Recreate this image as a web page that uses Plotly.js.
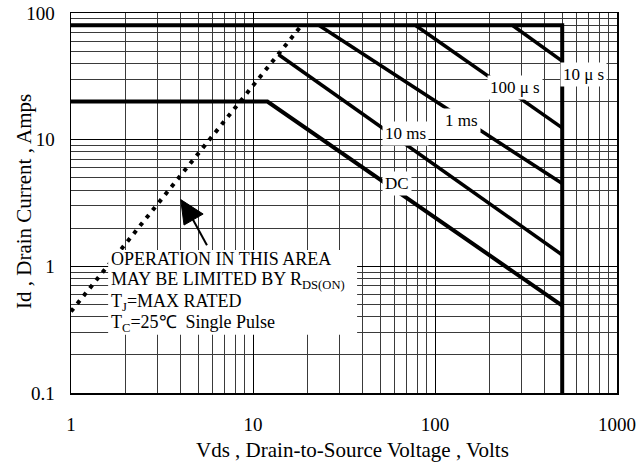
<!DOCTYPE html>
<html>
<head>
<meta charset="utf-8">
<script src="https://cdn.plot.ly/plotly-3.0.1.min.js"></script>
<style>html,body{margin:0;padding:0;background:#fff;}#chart{width:639px;height:467px;}</style>
</head>
<body>
<div id="chart"></div>
<script>
// Safe operating area boundaries (Vds in volts, Id in amps)
const limitX = [1, 500, 500];
const limitY = [80, 80, 0.1];
const dcX = [1, 12, 500];
const dcY = [20, 20, 0.49];
const ms10X = [13.8, 500];
const ms10Y = [47, 1.23];
const ms1X = [23, 500];
const ms1Y = [80, 4.5];
const us100X = [78, 500];
const us100Y = [80, 12.4];
const us10X = [266, 500];
const us10Y = [80, 41.7];
const rdsX = [1, 18.5];
const rdsY = [0.44, 80];

const xTickVals = [1, 10, 100, 1000];
const xTickText = ['1', '10', '100', '1000'];
const yTickVals = [0.1, 1, 10, 100];
const yTickText = ['0.1', '1', '10', '100'];

const serif = '"Liberation Serif"';
const black = '#000';

function line(x, y, w, dash) {
  return {x: x, y: y, type: 'scatter', mode: 'lines', hoverinfo: 'skip',
          line: {color: black, width: w, dash: dash || 'solid'}, showlegend: false};
}

const data = [
  line(limitX, limitY, 4),
  line(dcX, dcY, 4),
  line(ms10X, ms10Y, 3.5),
  line(ms1X, ms1Y, 3.5),
  line(us100X, us100Y, 3.5),
  line(us10X, us10Y, 3.5),
  line(rdsX, rdsY, 4, '4px,6px')
];

const gridColor = '#3a3a3a';
const axisCommon = {
  type: 'log',
  showline: true, linecolor: black, linewidth: 1.5, mirror: true,
  showgrid: true, gridcolor: black, gridwidth: 1,
  zeroline: false,
  ticks: '',
  tickfont: {family: serif, size: 19, color: black},
  minor: {dtick: 'D1', showgrid: true, gridcolor: gridColor, gridwidth: 1, ticks: ''}
};

function labelAnn(text, x, y) {
  return {text: text, x: x, y: y, xref: 'paper', yref: 'paper', showarrow: false,
          xanchor: 'center', yanchor: 'middle', bgcolor: '#fff', borderpad: 2,
          font: {family: serif, size: 17, color: black}};
}
function noteLine(text, y) {
  return {text: text, x: 0.070, y: y, xref: 'paper', yref: 'paper', showarrow: false,
          xanchor: 'left', yanchor: 'middle',
          font: {family: serif, size: 18, color: black}};
}

const layout = {
  width: 639, height: 467,
  margin: {l: 71, r: 22, t: 13, b: 74},
  paper_bgcolor: '#fff', plot_bgcolor: '#fff',
  font: {family: serif},
  xaxis: Object.assign({}, axisCommon, {
    range: [0, 3], tickvals: xTickVals, ticktext: xTickText, ticklabelstandoff: 14
  }),
  yaxis: Object.assign({}, axisCommon, {
    range: [-1, 2], tickvals: yTickVals, ticktext: yTickText, ticklabelstandoff: 11
  }),
  shapes: [
    {type: 'rect', xref: 'paper', yref: 'paper', x0: 0.068, x1: 0.524, y0: 0.153, y1: 0.376,
     fillcolor: '#fff', line: {width: 0}, layer: 'above'},
    {type: 'path', xref: 'paper', yref: 'paper',
     path: 'M 0.201 0.509 L 0.242 0.471 L 0.207 0.442 Z',
     fillcolor: black, line: {color: black, width: 1}, layer: 'above'},
    {type: 'line', xref: 'paper', yref: 'paper', x0: 0.249, y0: 0.389, x1: 0.222, y1: 0.46,
     line: {color: black, width: 2}, layer: 'above'}
  ],
  annotations: [
    labelAnn('100 μ s', 0.813, 0.803),
    labelAnn('10 μ s', 0.938, 0.837),
    labelAnn('1 ms', 0.716, 0.718),
    labelAnn('10 ms', 0.612, 0.684),
    labelAnn('DC', 0.597, 0.552),
    noteLine('OPERATION IN THIS AREA', 0.353),
    noteLine('MAY BE LIMITED BY R<sub>DS(ON)</sub>', 0.297),
    noteLine('T<sub>J</sub>=MAX RATED', 0.239),
    noteLine('T<sub>C</sub>=25℃  Single Pulse', 0.182),
    {text: 'Vds , Drain-to-Source Voltage , Volts', x: (352 - 71) / 546, y: -(450 - 393) / 380,
     xref: 'paper', yref: 'paper', showarrow: false, xanchor: 'center', yanchor: 'middle',
     font: {family: serif, size: 21, color: black}},
    {text: 'Id , Drain Current , Amps', x: -(71 - 24) / 546, y: (393 - 202) / 380,
     xref: 'paper', yref: 'paper', showarrow: false, textangle: -90,
     xanchor: 'center', yanchor: 'middle',
     font: {family: serif, size: 21, color: black}}
  ]
};

Plotly.newPlot('chart', data, layout, {staticPlot: true, displayModeBar: false});
</script>
</body>
</html>
